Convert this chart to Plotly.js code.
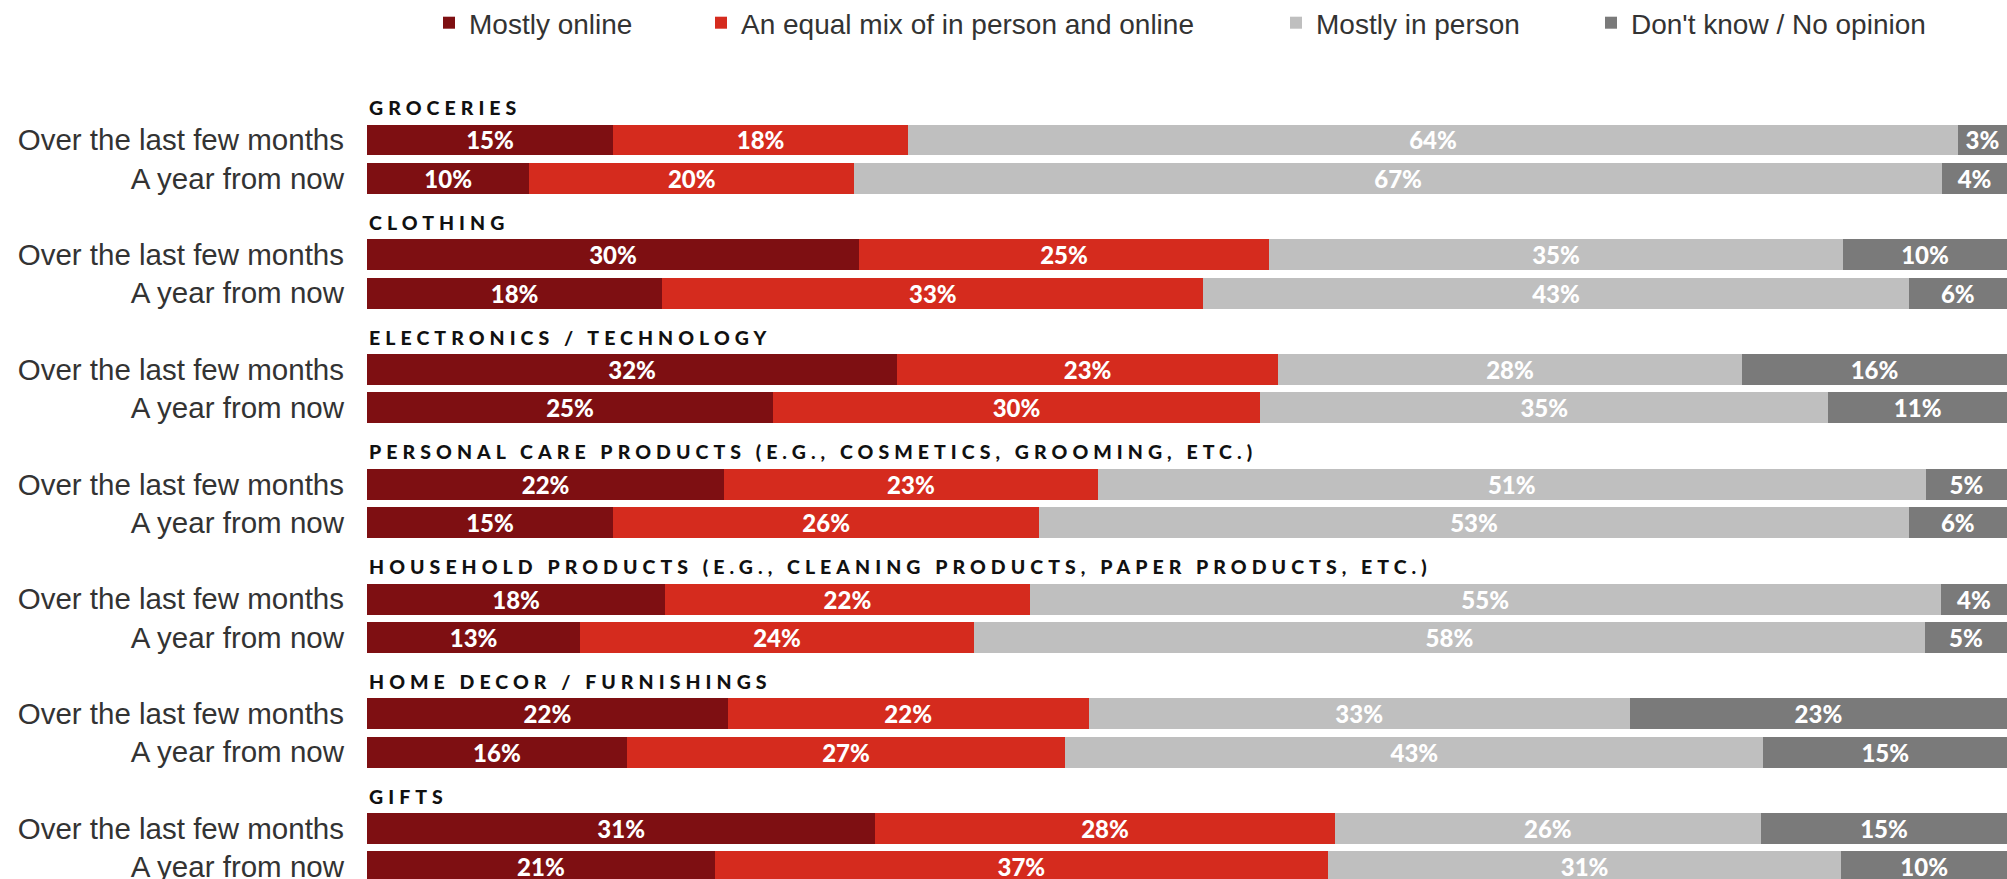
<!DOCTYPE html>
<html>
<head>
<meta charset="utf-8">
<script src="https://cdn.plot.ly/plotly-3.0.1.min.js"></script>
<style>
  html, body { margin: 0; padding: 0; background: #fff; }
  #chart { width: 2007px; height: 879px; }
</style>
</head>
<body>
<div id="chart"></div>
<script>
// Categories and the two time frames asked about
const categories = [
    'GROCERIES',
    'CLOTHING',
    'ELECTRONICS / TECHNOLOGY',
    'PERSONAL CARE PRODUCTS (E.G., COSMETICS, GROOMING, ETC.)',
    'HOUSEHOLD PRODUCTS (E.G., CLEANING PRODUCTS, PAPER PRODUCTS, ETC.)',
    'HOME DECOR / FURNISHINGS',
    'GIFTS'
];
const periods = ['Over the last few months', 'A year from now'];

// Values per row: category by category, "last few months" then "a year from now"
const mostlyOnline   = [15, 10, 30, 18, 32, 25, 22, 15, 18, 13, 22, 16, 31, 21];
const equalMix       = [18, 20, 25, 33, 23, 30, 23, 26, 22, 24, 22, 27, 28, 37];
const mostlyInPerson = [64, 67, 35, 43, 28, 35, 51, 53, 55, 58, 33, 43, 26, 31];
const dontKnow       = [3, 4, 10, 6, 16, 11, 5, 6, 4, 5, 23, 15, 15, 10];

const seriesNames = ['Mostly online', 'An equal mix of in person and online', 'Mostly in person', "Don't know / No opinion"];
const seriesColors = ['#7e0f12', '#d52b1e', '#bfbfbf', '#7a7a7a'];

// each category takes 3 slots: header, then the two bars
const rowPos = [];
const rowLabels = [];
categories.forEach((c, g) => {
    periods.forEach((p, r) => {
        rowPos.push(3 * g + 1 + r);
        rowLabels.push(p);
    });
});

const series = [mostlyOnline, equalMix, mostlyInPerson, dontKnow];
const legendIds = ['legend', 'legend2', 'legend3', 'legend4'];

const traces = series.map((vals, i) => ({
    type: 'bar',
    orientation: 'h',
    x: vals,
    y: rowPos,
    name: seriesNames[i],
    legend: legendIds[i],
    marker: { color: seriesColors[i] },
    text: vals,
    texttemplate: '%{text}%',
    textposition: 'inside',
    insidetextanchor: 'middle',
    textangle: 0,
    constraintext: 'none',
    textfont: { family: 'Lato, sans-serif', size: 24, color: '#ffffff', weight: 900 },
    hoverinfo: 'skip'
}));

const W = 2007, H = 879;
const L = 367;            // left margin, where the bars start
const PW = W - L;         // plot width
const legendLeft = [429, 701, 1276, 1591];
const legendFont = { family: 'Liberation Sans, Arial, sans-serif', size: 28, color: '#333333' };

function legendAt(px) {
    return {
        orientation: 'h',
        x: (px - L) / PW,
        xanchor: 'left',
        y: 1 - 23 / H,
        yanchor: 'middle',
        bgcolor: 'rgba(0,0,0,0)',
        font: legendFont,
        itemclick: false,
        itemdoubleclick: false
    };
}

const headers = categories.map((c, g) => ({
    text: '<span style="letter-spacing:5.05px">' + c + '</span>',
    xref: 'paper',
    x: 0,
    xanchor: 'left',
    yref: 'y',
    y: 3 * g + 1 - 0.85,
    yanchor: 'middle',
    showarrow: false,
    font: { family: 'Lato, sans-serif', size: 19.5, color: '#111111', weight: 900 }
}));

const layout = {
    width: W,
    height: H,
    barmode: 'stack',
    barnorm: 'percent',
    bargap: 0.19,
    showlegend: true,
    legend: legendAt(legendLeft[0]),
    legend2: legendAt(legendLeft[1]),
    legend3: legendAt(legendLeft[2]),
    legend4: legendAt(legendLeft[3]),
    margin: { l: L, r: 0, t: 0, b: 0, autoexpand: false },
    xaxis: {
        range: [0, 100],
        showgrid: false,
        zeroline: false,
        showticklabels: false,
        fixedrange: true
    },
    yaxis: {
        range: [20.315, -2.659],
        autorange: false,
        tickmode: 'array',
        tickvals: rowPos,
        ticktext: rowLabels,
        ticks: '',
        ticklabelstandoff: 22,
        ticklabeloverflow: 'allow',
        showgrid: false,
        zeroline: false,
        automargin: false,
        tickfont: { family: 'Liberation Sans, Arial, sans-serif', size: 29.5, color: '#333333' },
        fixedrange: true
    },
    annotations: headers,
    plot_bgcolor: '#ffffff',
    paper_bgcolor: '#ffffff'
};

Plotly.newPlot('chart', traces, layout, { displayModeBar: false, responsive: false });
</script>
</body>
</html>
